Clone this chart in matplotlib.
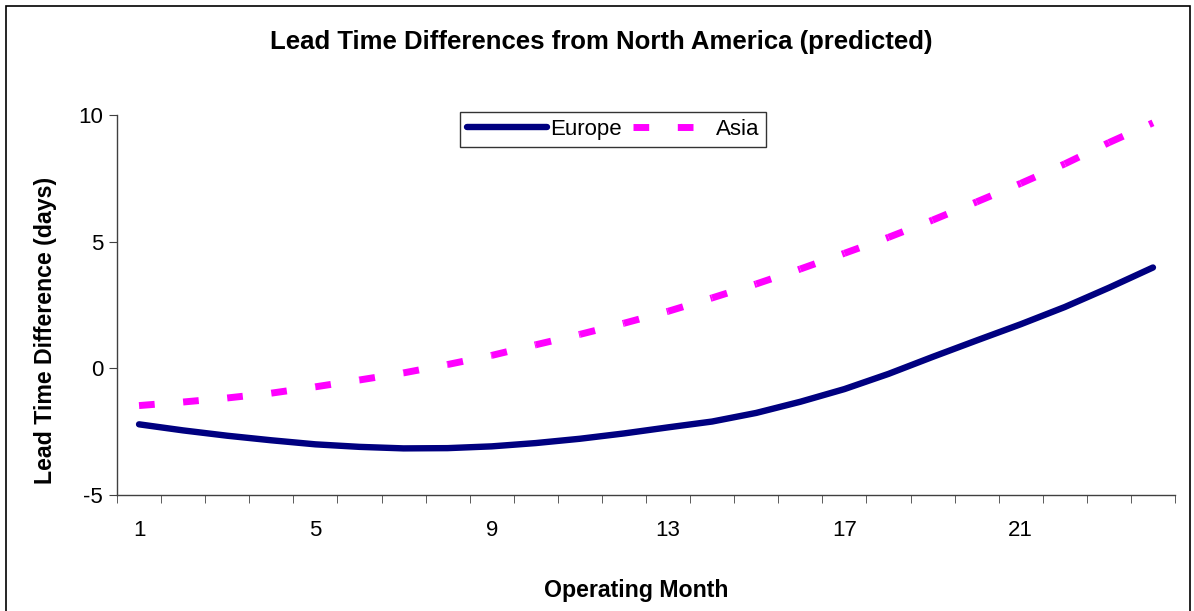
import matplotlib.pyplot as plt
from matplotlib.patches import Rectangle
from matplotlib.ticker import FixedLocator, NullFormatter

plt.rcParams['font.family'] = ['Liberation Sans', 'DejaVu Sans']
plt.rcParams['axes.unicode_minus'] = False

months = list(range(1, 25))
europe = [-2.21, -2.45, -2.66, -2.84, -3.00, -3.10, -3.16, -3.15, -3.08, -2.95,
          -2.78, -2.57, -2.33, -2.10, -1.76, -1.32, -0.82, -0.22, 0.45, 1.10,
          1.74, 2.42, 3.18, 3.98]
asia = [-1.47, -1.33, -1.17, -0.98, -0.73, -0.46, -0.18, 0.15, 0.51, 0.93,
        1.34, 1.78, 2.25, 2.78, 3.33, 3.92, 4.54, 5.17, 5.85, 6.57,
        7.30, 8.07, 8.91, 9.69]
month_labels = [1, 5, 9, 13, 17, 21]
y_ticks = [-5, 0, 5, 10]

fig = plt.figure(figsize=(11.94, 6.11), dpi=100)
ax = fig.add_axes([117 / 1194, 1 - 495 / 611, 1058 / 1194, 380 / 611])

ax.plot(months, europe, color='#000080', lw=4.6, solid_capstyle='round',
        label='Europe')
# Excel restarts the dash pattern at every data point, so draw segment by segment
for i in range(len(months) - 1):
    ax.plot(months[i:i + 2], asia[i:i + 2], color='#FF00FF', lw=5,
            dashes=(2.26, 4.12), label='Asia' if i == 0 else None)

ax.set_xlim(0.5, 24.5)
ax.set_ylim(-5, 10)
ax.set_yticks(y_ticks)
ax.set_xticks(month_labels)
ax.xaxis.set_minor_locator(FixedLocator([m + 0.5 for m in range(0, 25)]))
ax.xaxis.set_minor_formatter(NullFormatter())
ax.tick_params(axis='x', which='major', length=0, pad=18, labelsize=16)
ax.tick_params(axis='x', which='minor', length=6, direction='out',
               color='#404040')
ax.tick_params(axis='y', length=6, direction='out', labelsize=16,
               color='#404040', pad=4)

for side in ['top', 'right']:
    ax.spines[side].set_visible(False)
for side in ['left', 'bottom']:
    ax.spines[side].set_color('#404040')
    ax.spines[side].set_linewidth(1)

fig.text(601 / 1194, 1 - 42 / 611, 'Lead Time Differences from North America (predicted)',
         ha='center', va='center', fontsize=18.5, fontweight='bold')
fig.text(46 / 1194, 1 - 330 / 611, 'Lead Time Difference (days)', rotation=90,
         ha='center', va='center', fontsize=16.7, fontweight='bold')
fig.text(636 / 1194, 1 - 590 / 611, 'Operating Month',
         ha='center', va='center', fontsize=16.7, fontweight='bold')

leg = ax.legend(loc='center', bbox_to_anchor=(0.469, 0.962), ncol=2,
                fontsize=16, frameon=True, fancybox=False, shadow=False,
                handlelength=3.6, handletextpad=0.15, columnspacing=0.5,
                borderpad=0.3, borderaxespad=0)
leg.get_frame().set_edgecolor('black')
leg.get_frame().set_linewidth(1)

fig.patches.append(Rectangle((6 / 1194, -0.1), 1184 / 1194, 1.1 - 6 / 611,
                             transform=fig.transFigure, fill=False,
                             edgecolor='black', lw=1.2))

fig.savefig('out.png', dpi=100)
